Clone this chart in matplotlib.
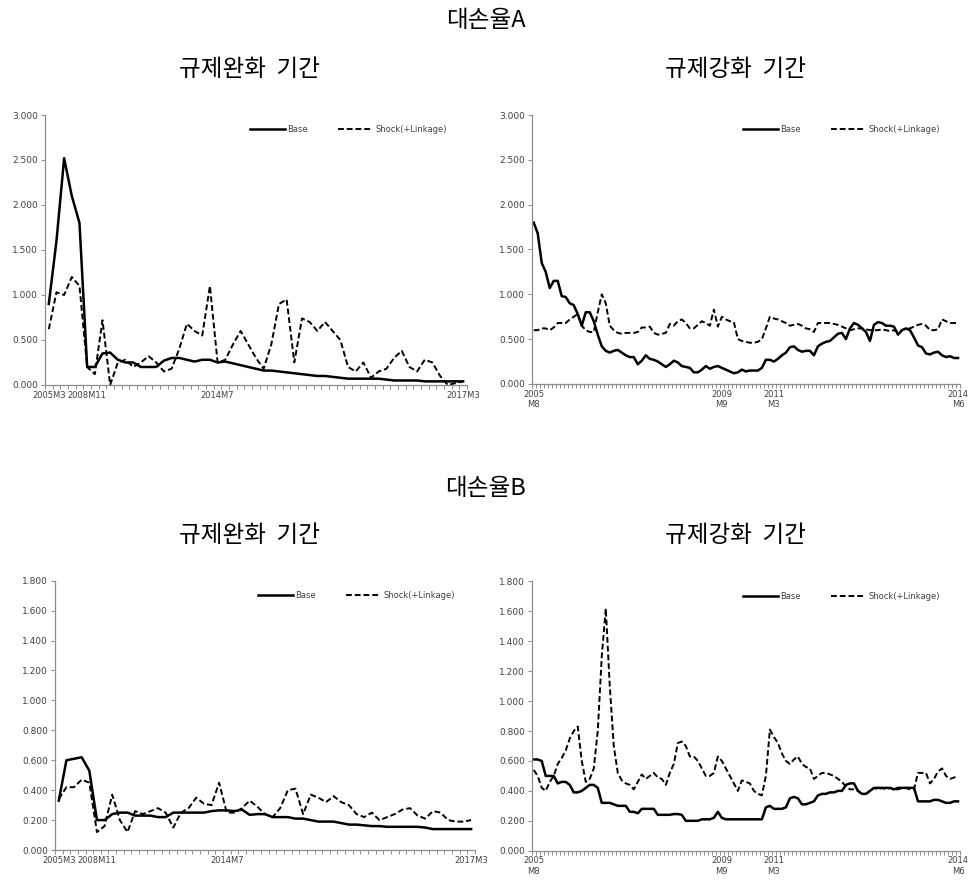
import matplotlib
matplotlib.use("Agg")
import matplotlib.pyplot as plt
from matplotlib.ticker import FixedLocator, FormatStrFormatter

# ---------- data ----------
# left panels (규제완화 기간): 55 periods
ease_labels = {0: "2005M3", 5: "2008M11", 22: "2014M7", 54: "2017M3"}

a_ease_base = [0.90, 1.60, 2.52, 2.10, 1.80, 0.20, 0.20, 0.35, 0.36, 0.28,
               0.25, 0.25, 0.20, 0.20, 0.20, 0.27, 0.30, 0.30, 0.28, 0.26,
               0.28, 0.28, 0.25, 0.26, 0.24, 0.22, 0.20, 0.18, 0.16, 0.16,
               0.15, 0.14, 0.13, 0.12, 0.11, 0.10, 0.10, 0.09, 0.08, 0.07,
               0.07, 0.07, 0.07, 0.07, 0.06, 0.05, 0.05, 0.05, 0.05, 0.04,
               0.04, 0.04, 0.04, 0.04, 0.04]
a_ease_shock = [0.62, 1.03, 1.00, 1.20, 1.10, 0.20, 0.12, 0.72, 0.00, 0.25,
                0.28, 0.20, 0.25, 0.32, 0.25, 0.15, 0.18, 0.40, 0.68, 0.60,
                0.55, 1.10, 0.25, 0.28, 0.45, 0.60, 0.45, 0.30, 0.18, 0.45,
                0.90, 0.95, 0.25, 0.74, 0.70, 0.60, 0.70, 0.60, 0.50, 0.20,
                0.15, 0.25, 0.08, 0.15, 0.18, 0.30, 0.38, 0.20, 0.15, 0.28,
                0.25, 0.10, 0.00, 0.02, 0.04]

b_ease_base = [0.33, 0.60, 0.61, 0.62, 0.53, 0.20, 0.20, 0.24, 0.25, 0.25,
               0.23, 0.23, 0.23, 0.22, 0.22, 0.25, 0.25, 0.25, 0.25, 0.25,
               0.26, 0.265, 0.265, 0.26, 0.27, 0.235, 0.24, 0.24, 0.22, 0.22,
               0.22, 0.21, 0.21, 0.20, 0.19, 0.19, 0.19, 0.18, 0.17, 0.17,
               0.165, 0.16, 0.16, 0.155, 0.155, 0.155, 0.155, 0.155, 0.15, 0.14,
               0.14, 0.14, 0.14, 0.14, 0.14]
b_ease_shock = [0.34, 0.42, 0.42, 0.47, 0.45, 0.12, 0.16, 0.37, 0.20, 0.12,
                0.26, 0.24, 0.26, 0.28, 0.25, 0.15, 0.25, 0.28, 0.35, 0.31,
                0.30, 0.45, 0.25, 0.25, 0.28, 0.33, 0.29, 0.24, 0.22, 0.28,
                0.40, 0.41, 0.24, 0.37, 0.35, 0.32, 0.36, 0.32, 0.30, 0.24,
                0.22, 0.25, 0.20, 0.22, 0.24, 0.27, 0.28, 0.23, 0.21, 0.26,
                0.25, 0.20, 0.19, 0.19, 0.20]

# right panels (규제강화 기간): 107 periods
tight_labels = {0: "2005\nM8", 47: "2009\nM9", 60: "2011\nM3", 106: "2014\nM6"}

a_tight_base = [1.80, 1.68, 1.35, 1.25, 1.07, 1.15, 1.15, 0.98, 0.97, 0.90,
                0.88, 0.78, 0.65, 0.80, 0.80, 0.70, 0.55, 0.42, 0.37, 0.35,
                0.37, 0.38, 0.35, 0.32, 0.30, 0.30, 0.22, 0.26, 0.32, 0.28,
                0.27, 0.25, 0.22, 0.19, 0.22, 0.26, 0.24, 0.20, 0.19, 0.18,
                0.13, 0.13, 0.16, 0.20, 0.17, 0.19, 0.20, 0.18, 0.16, 0.14,
                0.12, 0.13, 0.16, 0.14, 0.15, 0.15, 0.15, 0.18, 0.27, 0.27,
                0.25, 0.28, 0.32, 0.35, 0.41, 0.42, 0.38, 0.36, 0.37, 0.37,
                0.32, 0.42, 0.45, 0.47, 0.48, 0.52, 0.56, 0.57, 0.50, 0.62,
                0.68, 0.66, 0.62, 0.58, 0.48, 0.66, 0.69, 0.68, 0.65, 0.65,
                0.64, 0.55, 0.60, 0.62, 0.60, 0.52, 0.43, 0.41, 0.34, 0.33,
                0.35, 0.36, 0.32, 0.30, 0.31, 0.29, 0.29]
a_tight_shock = [0.60, 0.60, 0.62, 0.62, 0.60, 0.63, 0.68, 0.68, 0.68, 0.72,
                 0.75, 0.78, 0.65, 0.60, 0.58, 0.58, 0.80, 1.00, 0.90, 0.65,
                 0.60, 0.57, 0.56, 0.57, 0.57, 0.57, 0.58, 0.63, 0.63, 0.64,
                 0.57, 0.55, 0.56, 0.57, 0.67, 0.65, 0.70, 0.72, 0.68, 0.62,
                 0.62, 0.66, 0.70, 0.68, 0.65, 0.83, 0.64, 0.75, 0.72, 0.70,
                 0.69, 0.50, 0.48, 0.47, 0.46, 0.46, 0.47, 0.50, 0.62, 0.75,
                 0.73, 0.72, 0.70, 0.68, 0.65, 0.66, 0.67, 0.65, 0.62, 0.61,
                 0.58, 0.68, 0.68, 0.68, 0.68, 0.67, 0.66, 0.64, 0.62, 0.60,
                 0.61, 0.62, 0.62, 0.61, 0.60, 0.60, 0.60, 0.61, 0.60, 0.59,
                 0.60, 0.58, 0.60, 0.62, 0.62, 0.64, 0.66, 0.67, 0.65, 0.60,
                 0.60, 0.61, 0.72, 0.70, 0.68, 0.68, 0.68]

b_tight_base = [0.61, 0.61, 0.60, 0.50, 0.50, 0.50, 0.45, 0.46, 0.46, 0.44,
                0.39, 0.39, 0.40, 0.42, 0.44, 0.44, 0.42, 0.32, 0.32, 0.32,
                0.31, 0.30, 0.30, 0.30, 0.26, 0.26, 0.25, 0.28, 0.28, 0.28,
                0.28, 0.24, 0.24, 0.24, 0.24, 0.245, 0.245, 0.24, 0.20, 0.20,
                0.20, 0.20, 0.21, 0.21, 0.21, 0.22, 0.26, 0.22, 0.21, 0.21,
                0.21, 0.21, 0.21, 0.21, 0.21, 0.21, 0.21, 0.21, 0.29, 0.30,
                0.28, 0.28, 0.28, 0.29, 0.35, 0.36, 0.35, 0.31, 0.31, 0.32,
                0.33, 0.37, 0.38, 0.38, 0.39, 0.39, 0.40, 0.40, 0.44, 0.45,
                0.45, 0.40, 0.38, 0.38, 0.40, 0.42, 0.42, 0.42, 0.42, 0.42,
                0.41, 0.42, 0.42, 0.42, 0.42, 0.42, 0.33, 0.33, 0.33, 0.33,
                0.34, 0.34, 0.33, 0.32, 0.32, 0.33, 0.33]
b_tight_shock = [0.54, 0.50, 0.42, 0.40, 0.46, 0.50, 0.58, 0.62, 0.67, 0.75,
                 0.80, 0.83, 0.60, 0.46, 0.48, 0.55, 0.80, 1.30, 1.62, 1.10,
                 0.70, 0.52, 0.47, 0.45, 0.44, 0.41, 0.46, 0.51, 0.48, 0.50,
                 0.52, 0.49, 0.48, 0.44, 0.52, 0.58, 0.72, 0.73, 0.70, 0.63,
                 0.63, 0.60, 0.55, 0.50, 0.50, 0.52, 0.63, 0.60, 0.55, 0.50,
                 0.45, 0.40, 0.47, 0.46, 0.45, 0.40, 0.38, 0.37, 0.50, 0.81,
                 0.76, 0.72, 0.65, 0.60, 0.58, 0.61, 0.63, 0.58, 0.56, 0.55,
                 0.48, 0.50, 0.52, 0.52, 0.51, 0.50, 0.48, 0.46, 0.43, 0.41,
                 0.41, 0.40, 0.38, 0.38, 0.40, 0.42, 0.41, 0.42, 0.41, 0.42,
                 0.41, 0.41, 0.42, 0.42, 0.41, 0.41, 0.52, 0.52, 0.52, 0.45,
                 0.48, 0.53, 0.55, 0.50, 0.48, 0.49, 0.49]

KR = ["Noto Sans CJK KR", "DejaVu Sans"]
TXT = "#404040"
AXC = "#8c8c8c"


def draw_panel(fig, rect, base, shock, labels, ymax, ystep):
    ax = fig.add_axes(rect)
    n = len(base)
    x = list(range(n))
    ax.plot(x, base, color="black", lw=1.8, label="Base")
    ax.plot(x, shock, color="black", lw=1.4, ls=(0, (3, 1.5)), label="Shock(+Linkage)")

    ax.set_xlim(-0.5, n - 0.5)
    ax.set_ylim(0, ymax)
    yt = [round(i * ystep, 3) for i in range(int(round(ymax / ystep)) + 1)]
    ax.set_yticks(yt)
    ax.yaxis.set_major_formatter(FormatStrFormatter("%.3f"))

    ax.xaxis.set_major_locator(FixedLocator(list(labels.keys())))
    ax.set_xticklabels(list(labels.values()))
    ax.xaxis.set_minor_locator(FixedLocator([i - 0.5 for i in range(n + 1)]))
    ax.tick_params(axis="x", which="major", length=0, pad=4, labelsize=6, labelcolor=TXT)
    ax.tick_params(axis="x", which="minor", length=3, width=0.7, color=AXC)
    ax.tick_params(axis="y", length=3, width=0.7, color=AXC, labelsize=6.5, labelcolor=TXT, pad=2)

    for s in ("top", "right"):
        ax.spines[s].set_visible(False)
    for s in ("left", "bottom"):
        ax.spines[s].set_color(AXC)
        ax.spines[s].set_linewidth(0.9)

    ax.legend(loc="upper right", bbox_to_anchor=(0.97, 0.99), ncol=2, frameon=False,
              fontsize=6, handlelength=4.2, columnspacing=3.6, handletextpad=0.3,
              labelcolor=TXT)
    return ax


fig = plt.figure(figsize=(9.71, 8.86), dpi=100)

draw_panel(fig, [0.0463, 0.5655, 0.4346, 0.3047], a_ease_base, a_ease_shock, ease_labels, 3.0, 0.5)
draw_panel(fig, [0.5476, 0.5666, 0.4411, 0.3036], a_tight_base, a_tight_shock, tight_labels, 3.0, 0.5)
draw_panel(fig, [0.0566, 0.0406, 0.4325, 0.3040], b_ease_base, b_ease_shock, ease_labels, 1.8, 0.2)
draw_panel(fig, [0.5476, 0.0398, 0.4411, 0.3040], b_tight_base, b_tight_shock, tight_labels, 1.8, 0.2)

# section titles
fig.text(0.5, 0.977, "대손율A", ha="center", va="center", fontsize=17, family=KR)
fig.text(0.257, 0.921, "규제완화  기간", ha="center", va="center", fontsize=17, family=KR)
fig.text(0.757, 0.921, "규제강화  기간", ha="center", va="center", fontsize=17, family=KR)
fig.text(0.5, 0.449, "대손율B", ha="center", va="center", fontsize=17, family=KR)
fig.text(0.257, 0.396, "규제완화  기간", ha="center", va="center", fontsize=17, family=KR)
fig.text(0.757, 0.396, "규제강화  기간", ha="center", va="center", fontsize=17, family=KR)

fig.savefig("out.png", dpi=100)
